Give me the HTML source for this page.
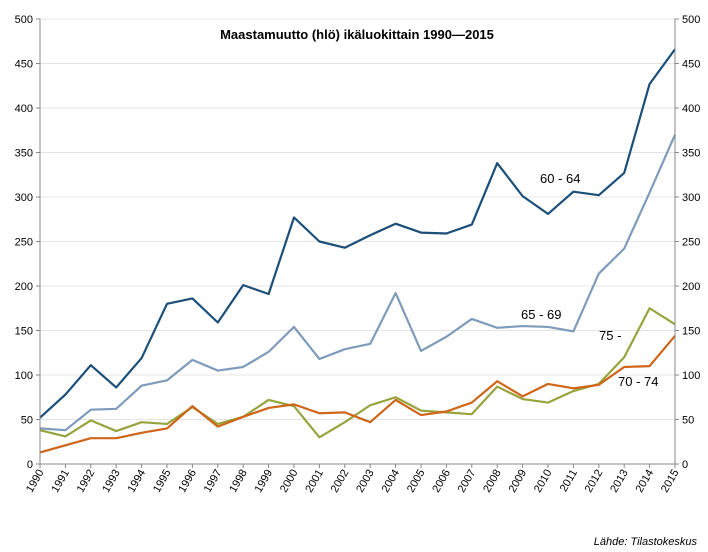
<!DOCTYPE html>
<html><head><meta charset="utf-8">
<style>
body{margin:0;background:#fff;}
svg{display:block;font-family:"Liberation Sans",sans-serif;}
</style></head>
<body>
<svg id="chart" width="708" height="552" viewBox="0 0 708 552" xmlns="http://www.w3.org/2000/svg">
<rect width="708" height="552" fill="#fff"/>
<g id="grid"></g>
<g id="series"></g>
<g id="axes"></g>
<text x="357" y="39" text-anchor="middle" font-size="13" font-weight="bold" fill="#000">Maastamuutto (hlö) ikäluokittain 1990—2015</text>
<text x="540" y="183" font-size="13" fill="#000">60 - 64</text>
<text x="521" y="319" font-size="13" fill="#000">65 - 69</text>
<text x="599" y="340" font-size="13" fill="#000">75 -</text>
<text x="618" y="386" font-size="13" fill="#000">70 - 74</text>
<text x="697" y="545" text-anchor="end" font-size="11" font-style="italic" fill="#000">Lähde: Tilastokeskus</text>
</svg>
<script>
const years = [1990,1991,1992,1993,1994,1995,1996,1997,1998,1999,2000,2001,2002,2003,2004,2005,2006,2007,2008,2009,2010,2011,2012,2013,2014,2015];
const s6064 = [52,78,111,86,119,180,186,159,201,191,277,250,243,257,270,260,259,269,338,301,281,306,302,327,427,466];
const s6569 = [40,38,61,62,88,94,117,105,109,126,154,118,129,135,192,127,143,163,153,155,154,149,214,242,305,370];
const s7074 = [13,21,29,29,35,40,65,42,53,63,67,57,58,47,72,55,59,69,93,76,90,85,89,109,110,144];
const s75 = [38,31,49,37,47,45,64,45,53,72,65,30,47,66,75,60,58,56,87,73,69,82,90,120,175,157];
const yTicks = [0,50,100,150,200,250,300,350,400,450,500];

const NS="http://www.w3.org/2000/svg";
const X0=40,X1=675,Y0=464,Y1=19;
function xs(i){return X0+(X1-X0)*i/(years.length-1);}
function ys(v){return Y0-(Y0-Y1)*v/500;}
function mk(tag,attrs,parent){const e=document.createElementNS(NS,tag);for(const k in attrs)e.setAttribute(k,attrs[k]);parent.appendChild(e);return e;}
const grid=document.getElementById('grid'),axes=document.getElementById('axes'),ser=document.getElementById('series');
yTicks.forEach(t=>{
  if(t>0){const g=mk('line',{x1:X0,x2:X1,y1:ys(t),y2:ys(t),stroke:'#e4e4e4','stroke-width':1},grid);
  
  }
  const l=mk('text',{x:X0-7,y:ys(t)+4,'text-anchor':'end','font-size':11,fill:'#000'},axes);l.textContent=t;
  
  
  const r=mk('text',{x:X1+7,y:ys(t)+4,'text-anchor':'start','font-size':11,fill:'#000'},axes);r.textContent=t;
  
  
  mk('line',{x1:X0-4,x2:X0,y1:ys(t),y2:ys(t),stroke:'#888'},axes);
  mk('line',{x1:X1,x2:X1+4,y1:ys(t),y2:ys(t),stroke:'#888'},axes);
});
const la=mk('line',{x1:X0,x2:X0,y1:Y1,y2:Y0,stroke:'#888'},axes);


const ra=mk('line',{x1:X1,x2:X1,y1:Y1,y2:Y0,stroke:'#888'},axes);


const xa=mk('line',{x1:X0,x2:X1,y1:Y0,y2:Y0,stroke:'#888'},axes);


years.forEach((y,i)=>{
  const x=xs(i);
  mk('line',{x1:x,x2:x,y1:Y0,y2:Y0+4,stroke:'#888'},axes);
  const t=mk('text',{x:x+4,y:Y0+8,'text-anchor':'end','font-size':11,fill:'#000',transform:`rotate(-60 ${x+4} ${Y0+8})`},axes);
  t.textContent=y;
  
  
});
function line(data,color,name){
  const p=mk('polyline',{points:data.map((v,i)=>xs(i)+','+ys(v)).join(' '),fill:'none',stroke:color,'stroke-width':2.2,'stroke-linejoin':'round'},ser);
  
  
}
line(s6569,'#7f9bbb','line-65-69');
line(s75,'#98a33e','line-75-plus');
line(s7074,'#cf6518','line-70-74');
line(s6064,'#1b4f79','line-60-64');
</script>
</body></html>
